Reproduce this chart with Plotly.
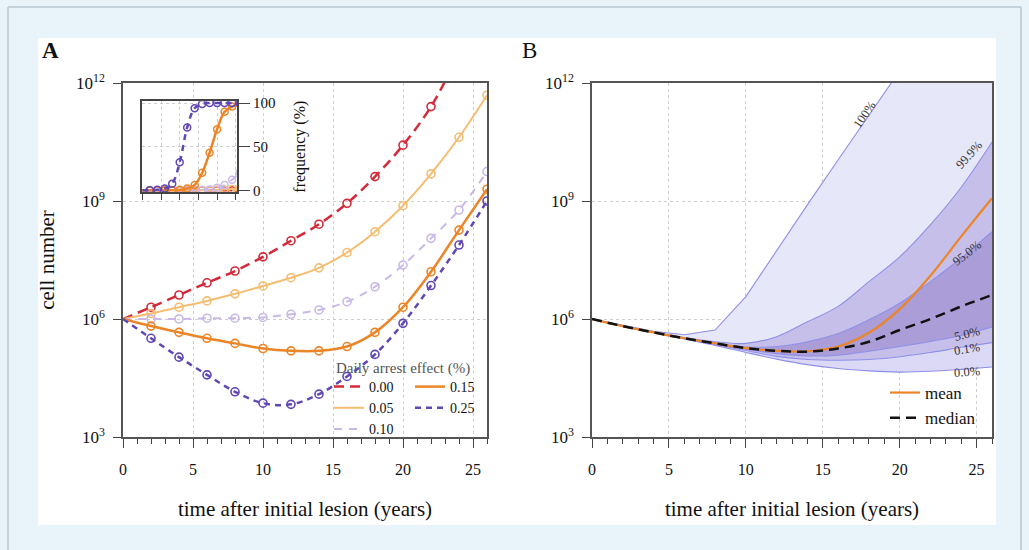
import plotly.graph_objects as go

# ---------------- data ----------------
years = [0, 2, 4, 6, 8, 10, 12, 14, 16, 18, 20, 22, 24, 26]

# Panel A: log10(cell number) per daily arrest effect
arrest_labels = ["0.00", "0.05", "0.10", "0.15", "0.25"]
log_cells_000 = [6.0, 6.30, 6.61, 6.92, 7.22, 7.58, 7.99, 8.41, 8.94, 9.62, 10.42, 11.40, 12.75, 14.2]
log_cells_005 = [6.0, 6.14, 6.30, 6.46, 6.64, 6.84, 7.05, 7.30, 7.69, 8.22, 8.88, 9.69, 10.62, 11.69]
log_cells_010 = [6.0, 6.0, 6.0, 6.02, 6.02, 6.04, 6.12, 6.23, 6.44, 6.82, 7.37, 8.05, 8.77, 9.75]
log_cells_015 = [6.0, 5.82, 5.66, 5.51, 5.38, 5.25, 5.19, 5.19, 5.30, 5.66, 6.30, 7.20, 8.26, 9.30]
log_cells_025 = [6.0, 5.51, 5.03, 4.58, 4.15, 3.86, 3.83, 4.09, 4.54, 5.10, 5.89, 6.85, 7.88, 9.0]

# Inset: frequency (%)
freq_000 = [0, 0, 0, 0, 0, 0, 0, 0, 0, 0, 0, 0, 0, 0]
freq_005 = [0, 0, 0, 0, 0, 0, 0, 0, 0, 0, 0.5, 1, 1.5, 2]
freq_010 = [0, 0, 0, 0, 0, 0, 0, 0, 0.5, 1, 3, 6, 12, 20]
freq_015 = [0, 0, 0, 0, 0, 0.5, 2, 6, 20, 43, 70, 90, 96, 99]
freq_025 = [0, 0, 0.5, 2, 7.5, 32, 72, 94, 99, 100, 100, 100, 100, 100]

# Panel B: log10 quantiles, mean and median
q_labels = ["0.0%", "0.1%", "5.0%", "95.0%", "99.9%", "100%"]
log_q000 = [6.0, 5.81, 5.65, 5.49, 5.33, 5.15, 4.98, 4.84, 4.74, 4.68, 4.65, 4.67, 4.72, 4.78]
log_q001 = [6.0, 5.82, 5.66, 5.50, 5.35, 5.20, 5.05, 4.97, 4.95, 4.97, 5.04, 5.15, 5.28, 5.40]
log_q050 = [6.0, 5.82, 5.66, 5.51, 5.37, 5.23, 5.12, 5.06, 5.08, 5.18, 5.30, 5.43, 5.58, 5.80]
log_q950 = [6.0, 5.82, 5.66, 5.51, 5.39, 5.29, 5.30, 5.42, 5.63, 5.98, 6.40, 6.95, 7.55, 8.22]
log_q999 = [6.0, 5.83, 5.67, 5.53, 5.42, 5.38, 5.55, 5.93, 6.32, 6.95, 7.58, 8.40, 9.35, 10.5]
log_q1000 = [6.0, 5.84, 5.69, 5.60, 5.72, 6.57, 7.75, 8.90, 10.05, 11.2, 12.35, 13.5, 14.6, 15.7]
log_mean = [6.0, 5.82, 5.66, 5.51, 5.38, 5.26, 5.19, 5.18, 5.30, 5.65, 6.25, 7.10, 8.10, 9.07]
log_median = [6.0, 5.82, 5.66, 5.51, 5.38, 5.26, 5.19, 5.17, 5.25, 5.42, 5.72, 6.00, 6.32, 6.61]

# ---------------- style ----------------
W, H = 1029, 550
SERIF = "Liberation Serif, Times New Roman, DejaVu Serif, serif"
colors = ["#d42a3a", "#f5bd72", "#c8b9e8", "#ec8527", "#6147b4"]
dashes = ["10px,6px", "solid", "8px,7px", "solid", "6px,5px"]
widths = [2.5, 2.0, 2.0, 2.5, 2.5]
legend_ids = ["legend", "legend", "legend", "legend2", "legend2"]

def px_x(p):
    return p / W

def px_y(p):
    return 1 - p / H

def pw(vals):
    return [10 ** v for v in vals]

fig = go.Figure()

log_series = [log_cells_000, log_cells_005, log_cells_010, log_cells_015, log_cells_025]
freq_series = [freq_000, freq_005, freq_010, freq_015, freq_025]

# Panel A main curves
for lab, vals, c, d, w, lg in zip(arrest_labels, log_series, colors, dashes, widths, legend_ids):
    fig.add_trace(go.Scatter(
        x=years, y=pw(vals), mode="lines", name=lab,
        line=dict(color=c, dash=d, width=w, shape="spline"),
        legend=lg, showlegend=True, xaxis="x", yaxis="y", hoverinfo="skip"))
    fig.add_trace(go.Scatter(
        x=years[1:], y=pw(vals)[1:], mode="markers", showlegend=False,
        marker=dict(symbol="circle-open", size=8, color=c, line=dict(width=1.6)),
        xaxis="x", yaxis="y", hoverinfo="skip"))

# Inset curves
for lab, vals, c, d, w in zip(arrest_labels, freq_series, colors, dashes, widths):
    fig.add_trace(go.Scatter(
        x=years, y=vals, mode="lines", showlegend=False,
        line=dict(color=c, dash=d, width=w, shape="spline"),
        xaxis="x3", yaxis="y3", hoverinfo="skip"))
    fig.add_trace(go.Scatter(
        x=years[1:], y=vals[1:], mode="markers", showlegend=False,
        marker=dict(symbol="circle-open", size=7, color=c, line=dict(width=1.5)),
        xaxis="x3", yaxis="y3", hoverinfo="skip"))

# Panel B bands
band_line = dict(color="#8e8ee8", width=1.1)
q_series = [log_q000, log_q001, log_q050, log_q950, log_q999, log_q1000]
q_fill = [None, "#dcd9f7", "#c6bfe9", "#aa9dd8", "#c6bfe9", "#e7e7fa"]
for lab, vals, fc in zip(q_labels, q_series, q_fill):
    shape = "linear" if lab == "100%" else "spline"
    fig.add_trace(go.Scatter(
        x=years, y=pw(vals), mode="lines", showlegend=False, name=lab,
        line=dict(band_line, shape=shape),
        fill=None if fc is None else "tonexty", fillcolor=fc,
        xaxis="x2", yaxis="y2", hoverinfo="skip"))

fig.add_trace(go.Scatter(
    x=years, y=pw(log_mean), mode="lines", name="mean",
    line=dict(color="#ec8527", width=2.2, shape="spline"),
    legend="legend3", xaxis="x2", yaxis="y2", hoverinfo="skip"))
fig.add_trace(go.Scatter(
    x=years, y=pw(log_median), mode="lines", name="median",
    line=dict(color="#111111", width=2.5, dash="10px,6px", shape="spline"),
    legend="legend3", xaxis="x2", yaxis="y2", hoverinfo="skip"))

# ---------------- axes ----------------
dom_y = [px_y(437), px_y(83)]
tick_font = dict(family=SERIF, size=16, color="#111")
ytick_font = dict(family=SERIF, size=17, color="#111")
title_font = dict(family=SERIF, size=21, color="#111")

def xaxis_main(domain, anchor):
    return dict(
        domain=domain, anchor=anchor, range=[0, 26], tick0=0, dtick=5,
        ticks="outside", ticklen=9, tickwidth=1.2, tickcolor="#444",
        showline=True, linecolor="#555", linewidth=1.5, mirror=True,
        showgrid=True, gridcolor="#cdcdcd", griddash="dot", gridwidth=1,
        zeroline=False, tickfont=tick_font, ticklabelstandoff=8,
        minor=dict(tickmode="linear", tick0=0, dtick=1, ticks="outside", ticklen=5,
                   tickwidth=1.2, tickcolor="#444", showgrid=False),
        title=dict(text="time after initial lesion (years)", font=title_font, standoff=24),
        automargin=False, fixedrange=True)

def yaxis_main(domain, anchor, title=None):
    d = dict(
        domain=domain, anchor=anchor, type="log", range=[3, 12],
        tickvals=[1e3, 1e6, 1e9, 1e12],
        ticktext=["10<sup>3</sup>", "10<sup>6</sup>", "10<sup>9</sup>", "10<sup>12</sup>"],
        ticks="outside", ticklen=8, tickwidth=1.2, tickcolor="#444",
        showline=True, linecolor="#555", linewidth=1.5, mirror=True,
        showgrid=True, gridcolor="#cdcdcd", griddash="dot", gridwidth=1,
        zeroline=False, tickfont=ytick_font, ticklabelstandoff=5,
        automargin=False, fixedrange=True)
    if title:
        d["title"] = dict(text=title, font=title_font, standoff=16)
    return d

legend_common = dict(xanchor="left", yanchor="top", bgcolor="rgba(0,0,0,0)",
                     borderwidth=0, traceorder="normal")

layout = dict(
    width=W, height=H, margin=dict(l=0, r=0, t=0, b=0),
    paper_bgcolor="#e8f3fa", plot_bgcolor="white",
    font=dict(family=SERIF, color="#111"),
    xaxis=xaxis_main([px_x(123), px_x(487)], "y"),
    yaxis=yaxis_main(dom_y, "x", "cell number"),
    xaxis2=xaxis_main([px_x(592), px_x(992)], "y2"),
    yaxis2=yaxis_main(dom_y, "x2"),
    xaxis3=dict(
        domain=[px_x(142.3), px_x(237.3)], anchor="y3", range=[0, 25.4], tick0=0, dtick=5,
        ticks="outside", ticklen=6, tickwidth=1.2, tickcolor="#444", showticklabels=False,
        showline=True, linecolor="#444", linewidth=1.5, mirror=True,
        showgrid=True, gridcolor="#cdcdcd", griddash="dot", zeroline=False,
        automargin=False, fixedrange=True),
    yaxis3=dict(
        domain=[px_y(192), px_y(101.3)], anchor="x3", side="right", range=[-2, 102],
        tickvals=[0, 50, 100], ticks="outside", ticklen=11, tickwidth=1.2, tickcolor="#444",
        showline=True, linecolor="#444", linewidth=1.5, mirror=True,
        showgrid=True, gridcolor="#cdcdcd", griddash="dot", zeroline=False,
        tickfont=dict(family=SERIF, size=15, color="#111"),
        title=dict(text="frequency (%)", font=dict(family=SERIF, size=16, color="#111"), standoff=19),
        automargin=False, fixedrange=True),
    legend=dict(legend_common, x=px_x(329), y=px_y(371),
                font=dict(family=SERIF, size=14, color="#111")),
    legend2=dict(legend_common, x=px_x(410), y=px_y(371),
                 font=dict(family=SERIF, size=14, color="#111")),
    legend3=dict(legend_common, x=px_x(885), y=px_y(375),
                 font=dict(family=SERIF, size=17, color="#111")),
    showlegend=True,
)
fig.update_layout(**layout)

# background panel and frame
fig.add_shape(type="rect", xref="paper", yref="paper", layer="below",
              x0=px_x(38), x1=px_x(996), y0=px_y(525), y1=px_y(38),
              fillcolor="white", line=dict(width=0))
frame = dict(color="#b9c7d1", width=1.5)
fig.add_shape(type="line", xref="paper", yref="paper", x0=px_x(8), x1=px_x(8), y0=0, y1=px_y(7), line=frame)
fig.add_shape(type="line", xref="paper", yref="paper", x0=px_x(8), x1=px_x(1021), y0=px_y(7), y1=px_y(7), line=frame)
fig.add_shape(type="line", xref="paper", yref="paper", x0=px_x(1021), x1=px_x(1021), y0=0, y1=px_y(7), line=frame)

# panel letters
fig.add_annotation(text="<b>A</b>", xref="paper", yref="paper", x=px_x(40), y=px_y(50),
                   xanchor="left", yanchor="middle", showarrow=False,
                   font=dict(family=SERIF, size=23, color="#111"))
fig.add_annotation(text="B", xref="paper", yref="paper", x=px_x(520), y=px_y(50),
                   xanchor="left", yanchor="middle", showarrow=False,
                   font=dict(family=SERIF, size=23, color="#111"))

# legend title for panel A
fig.add_annotation(text="Daily arrest effect (%)", xref="paper", yref="paper",
                   x=px_x(334), y=px_y(368), xanchor="left", yanchor="middle", showarrow=False,
                   font=dict(family=SERIF, size=15, color="#555"))

# quantile labels in panel B
q_label_pos = {"100%": (17.7, 11.19, -55), "99.9%": (24.5, 10.17, -48), "95.0%": (24.4, 7.67, -38),
               "5.0%": (24.4, 5.62, -14), "0.1%": (24.4, 5.23, -9), "0.0%": (24.4, 4.66, -4)}
for lab in q_labels:
    xx, yy, ang = q_label_pos[lab]
    fig.add_annotation(text=lab, x=xx, y=yy, xref="x2", yref="y2", showarrow=False,
                       textangle=ang, font=dict(family=SERIF, size=12.5, color="#333"))

fig.write_html("out.html", config={"displayModeBar": False},
               post_script="document.body.style.margin='0px';")
